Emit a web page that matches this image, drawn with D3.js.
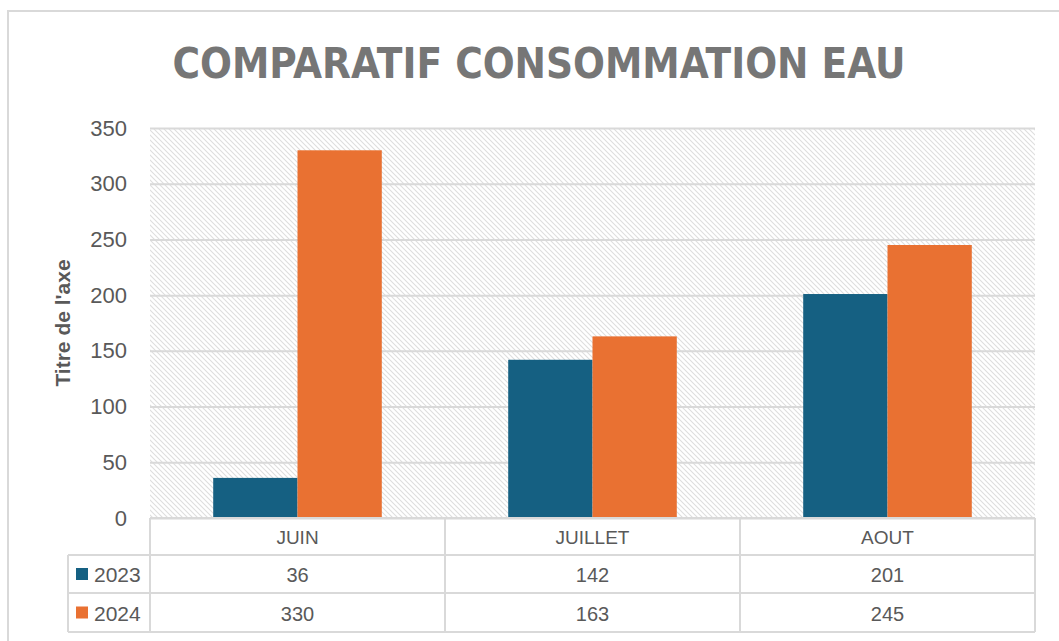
<!DOCTYPE html>
<html>
<head>
<meta charset="utf-8">
<script src="https://cdn.jsdelivr.net/npm/d3@7"></script>
<style>
  body { margin: 0; background: #fff; }
  svg { display: block; font-family: "Liberation Sans", Arial, sans-serif; }
</style>
</head>
<body>
<div id="chart"></div>
<script>
const months = ["JUIN", "JUILLET", "AOUT"];
const years = ["2023", "2024"];
const values2023 = [36, 142, 201];
const values2024 = [330, 163, 245];
const yTicks = [0, 50, 100, 150, 200, 250, 300, 350];
const colors = ["#156082", "#e97132"];

const w = 1059;
const h = 641;
const plotLeft = 150, plotRight = 1035, plotTop = 128, plotBottom = 518;
const rowH = [37, 38, 39];

const svg = d3.select("#chart").append("svg").attr("width", w).attr("height", h);

// hatch pattern for plot background
const defs = svg.append("defs");
const pat = defs.append("pattern")
  .attr("id", "hatch")
  .attr("patternUnits", "userSpaceOnUse")
  .attr("width", 5)
  .attr("height", 5);
pat.append("path")
  .attr("d", "M-1,-1 L6,6 M-1,4 L1,6 M4,-1 L6,1")
  .attr("stroke", "#dedede")
  .attr("stroke-width", 1.1);

// outer chart border
svg.append("rect")
  .attr("x", 8).attr("y", 11)
  .attr("width", w + 10).attr("height", h + 10)
  .attr("fill", "none")
  .attr("stroke", "#d9d9d9")
  .attr("stroke-width", 2);

svg.append("text")
  .attr("x", 539)
  .attr("y", 78)
  .attr("text-anchor", "middle")
  .attr("font-family", "'Liberation Sans Narrow', 'DejaVu Sans Condensed', sans-serif")
  .attr("font-weight", "bold")
  .attr("font-size", 42)
  .attr("fill", "#767676")
  .attr("textLength", 733)
  .attr("lengthAdjust", "spacingAndGlyphs")
  .text("COMPARATIF CONSOMMATION EAU");

const x = d3.scaleBand().domain(months).range([plotLeft, plotRight]);
const xInner = d3.scaleBand().domain(years).range([0, x.bandwidth()]).paddingOuter(0.75);
const y = d3.scaleLinear().domain([0, 350]).range([plotBottom, plotTop]);

svg.append("rect")
  .attr("x", plotLeft).attr("y", plotTop)
  .attr("width", plotRight - plotLeft).attr("height", plotBottom - plotTop)
  .attr("fill", "url(#hatch)");

const yAxis = svg.append("g")
  .attr("transform", "translate(" + plotLeft + ",0)")
  .call(d3.axisLeft(y).tickValues(yTicks).tickSize(-(plotRight - plotLeft)).tickPadding(23));
yAxis.select(".domain").remove();
yAxis.selectAll("line").attr("stroke", "#d9d9d9").attr("stroke-width", 2);
yAxis.selectAll("text")
  .attr("font-size", 22)
  .attr("fill", "#595959")
  .attr("font-family", "'Liberation Sans', Arial, sans-serif");

svg.append("text")
  .attr("transform", "translate(70,323) rotate(-90)")
  .attr("text-anchor", "middle")
  .attr("font-weight", "bold")
  .attr("font-size", 21)
  .attr("fill", "#595959")
  .text("Titre de l'axe");

const series = [values2023, values2024];
years.forEach((yr, si) => {
  svg.append("g")
    .selectAll("rect")
    .data(months)
    .enter()
    .append("rect")
    .attr("x", (m) => x(m) + xInner(yr))
    .attr("y", (m, i) => y(series[si][i]))
    .attr("width", xInner.bandwidth())
    .attr("height", (m, i) => y(0) - y(series[si][i]))
    .attr("fill", colors[si]);
});

// data table
const table = svg.append("g");
const lineColor = "#d9d9d9";
const r0 = plotBottom, r1 = r0 + rowH[0], r2 = r1 + rowH[1], r3 = r2 + rowH[2];
const tleft = 68;

// horizontal lines
[[plotLeft, r0], [tleft, r1], [tleft, r2], [tleft, r3]].forEach(([x0, yy]) => {
  table.append("line")
    .attr("x1", x0).attr("x2", plotRight).attr("y1", yy).attr("y2", yy)
    .attr("stroke", lineColor).attr("stroke-width", 2);
});
// vertical lines
table.append("line")
  .attr("x1", tleft).attr("x2", tleft).attr("y1", r1).attr("y2", r3)
  .attr("stroke", lineColor).attr("stroke-width", 2);
months.forEach((m) => {
  table.append("line")
    .attr("x1", x(m)).attr("x2", x(m)).attr("y1", r0).attr("y2", r3)
    .attr("stroke", lineColor).attr("stroke-width", 2);
});
table.append("line")
  .attr("x1", plotRight).attr("x2", plotRight).attr("y1", r0).attr("y2", r3)
  .attr("stroke", lineColor).attr("stroke-width", 2);

table.selectAll(".mlabel")
  .data(months)
  .enter()
  .append("text")
  .attr("x", (m) => x(m) + x.bandwidth() / 2)
  .attr("y", (r0 + r1) / 2 + 7)
  .attr("text-anchor", "middle")
  .attr("font-size", 19)
  .attr("fill", "#595959")
  .text((m) => m);

const rowsY = [(r1 + r2) / 2, (r2 + r3) / 2];
years.forEach((yr, si) => {
  table.append("rect")
    .attr("x", 76).attr("y", rowsY[si] - 6)
    .attr("width", 12).attr("height", 12)
    .attr("fill", colors[si]);
  table.append("text")
    .attr("x", 94).attr("y", rowsY[si] + 8)
    .attr("font-size", 21)
    .attr("fill", "#595959")
    .text(yr);
  table.selectAll(".v" + yr)
    .data(series[si])
    .enter()
    .append("text")
    .attr("x", (d, i) => x(months[i]) + x.bandwidth() / 2)
    .attr("y", rowsY[si] + 8)
    .attr("text-anchor", "middle")
    .attr("font-size", 20)
    .attr("fill", "#595959")
    .text((d) => d);
});
</script>
</body>
</html>
